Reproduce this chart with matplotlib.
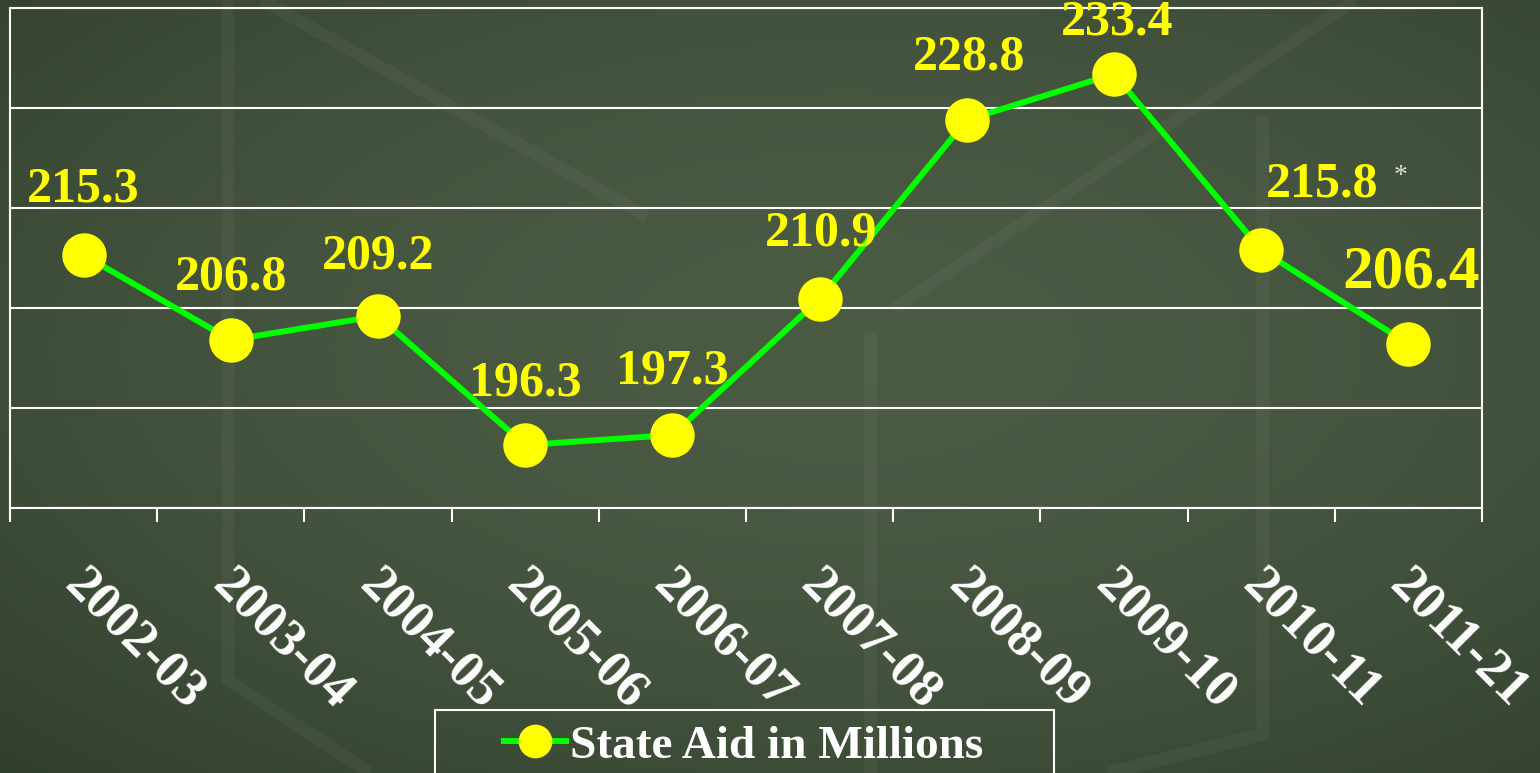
import matplotlib
matplotlib.use("Agg")
import matplotlib.pyplot as plt
import matplotlib.transforms as mtransforms
from matplotlib.patches import Rectangle
import numpy as np

# data
years = ["2002-03", "2003-04", "2004-05", "2005-06", "2006-07",
         "2007-08", "2008-09", "2009-10", "2010-11", "2011-21"]
state_aid = [215.3, 206.8, 209.2, 196.3, 197.3, 210.9, 228.8, 233.4, 215.8, 206.4]

plt.rcParams['font.family'] = ['Liberation Serif', 'DejaVu Serif']

bg = '#3d4c37'
fig = plt.figure(figsize=(15.4, 7.73), dpi=100)
fig.patch.set_facecolor(bg)

# soft chalkboard shading behind everything
bgax = fig.add_axes([0, 0, 1, 1], zorder=-10)
yy, xx = np.mgrid[0:1:200j, 0:1:400j]
shade = 1 - 0.6 * ((xx - 0.55) ** 2 + (yy - 0.45) ** 2)
bgax.imshow(shade, cmap=matplotlib.colors.LinearSegmentedColormap.from_list(
    'chalk', ['#2e3c2a', '#4a5a43']), aspect='auto', extent=[0, 1, 0, 1], vmin=0.6, vmax=1.0)
# faint chalk strokes of the slide background
for xs, ys in [([0.148, 0.148, 0.24], [1.0, 0.12, 0.0]),
               ([0.565, 0.565], [0.57, 0.0]),
               ([0.82, 0.82, 0.72], [0.85, 0.05, 0.0]),
               ([0.17, 0.42], [1.0, 0.72]),
               ([0.58, 0.88], [0.6, 1.0])]:
    bgax.plot(xs, ys, color='white', alpha=0.04, lw=9, solid_capstyle='butt')
bgax.set_xlim(0, 1)
bgax.set_ylim(0, 1)
bgax.axis('off')

ax = fig.add_axes([10 / 1540, 1 - 508 / 773, 1472 / 1540, 500 / 773])
ax.set_facecolor('none')

x = np.arange(len(years))
ax.plot(x, state_aid, color='#00ff00', lw=4.3, marker='o', markersize=31,
        markerfacecolor='#ffff00', markeredgecolor='#ffff00', label='State Aid in Millions',
        zorder=3)

ax.set_xlim(-0.5, len(years) - 0.5)
ax.set_ylim(190, 240)
ax.set_yticks(np.arange(190, 241, 10))
ax.yaxis.grid(True, color='white', lw=1.5)
ax.tick_params(axis='y', left=False, labelleft=False)
for s in ax.spines.values():
    s.set_color('white')
    s.set_linewidth(1.5)

ax.set_xticks(x)
ax.set_xticklabels(years, rotation=-45, ha='left', va='top', rotation_mode='anchor',
                   color='white', fontsize=38, fontweight='bold')
ax.tick_params(axis='x', which='major', length=0, pad=38)
shift = mtransforms.ScaledTranslation(6 / 100, 0, fig.dpi_scale_trans)
for lbl in ax.get_xticklabels():
    lbl.set_transform(lbl.get_transform() + shift)
ax.set_xticks(np.arange(-0.5, len(years), 1), minor=True)
ax.tick_params(axis='x', which='minor', length=10, width=1.5, color='white')

# value labels (pixel offsets from each point)
offsets = [(0, 66), (0, 63), (0, 60), (0, 62), (0, 64), (2, 66), (2, 63), (3, 52), (61, 66), (3, 72)]
sizes = [36, 36, 36, 36, 36, 36, 36, 36, 36, 44]
for xi, v, off, fs in zip(x, state_aid, offsets, sizes):
    ax.annotate(f"{v:.1f}", (xi, v), xytext=off, textcoords='offset pixels',
                ha='center', va='center', color='#ffff00', fontsize=fs,
                fontweight='bold', annotation_clip=False, clip_on=False)
ax.annotate("*", (x[8], state_aid[8]), xytext=(139, 74), textcoords='offset pixels',
            ha='center', va='center', color='#dddddd', fontsize=20)

# legend without its own frame, boxed by a rectangle like the slide
leg = fig.legend(loc='center', bbox_to_anchor=(744 / 1540, 1 - 746 / 773),
                 frameon=False, prop={'weight': 'bold', 'size': 34},
                 markerscale=0.75, handlelength=1.3, handletextpad=0.1,
                 borderpad=0, borderaxespad=0)
for t in leg.get_texts():
    t.set_color('white')
fig.patches.append(Rectangle((435 / 1540, -0.01), 619 / 1540, (773 - 710) / 773 + 0.01,
                             transform=fig.transFigure, facecolor='none',
                             edgecolor='white', lw=1.5))

fig.savefig('out.png', dpi=100, facecolor=fig.get_facecolor())
